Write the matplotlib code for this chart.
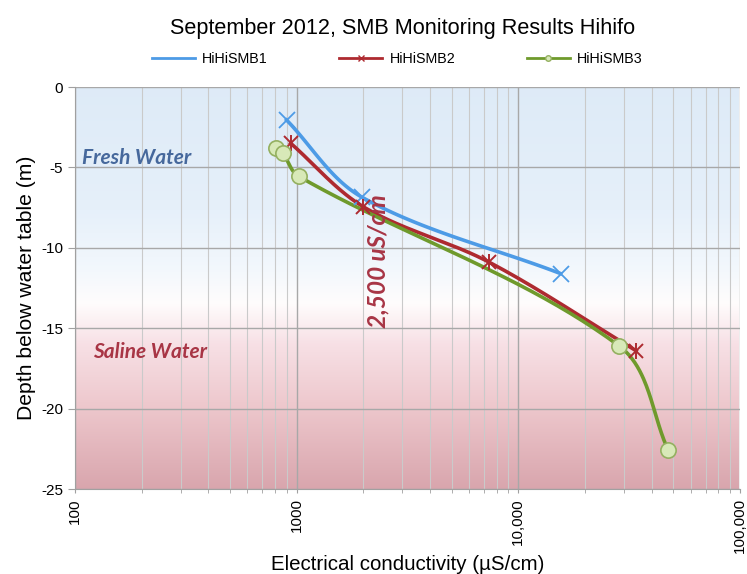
import matplotlib.pyplot as plt
import matplotlib as mpl
import numpy as np
from matplotlib.colors import LinearSegmentedColormap
from matplotlib.lines import Line2D

plt.rcParams['font.family'] = ['Liberation Sans', 'DejaVu Sans']
plt.rcParams['axes.unicode_minus'] = False

# data (EC in uS/cm, depth in m)
smb1_ec = [900, 1970, 15500]
smb1_depth = [-2.05, -6.85, -11.6]
smb2_ec = [940, 2000, 7400, 34000]
smb2_depth = [-3.5, -7.45, -10.9, -16.4]
smb3_ec = [810, 865, 1020, 28500, 47500]
smb3_depth = [-3.8, -4.1, -5.55, -16.1, -22.6]

series_names = ['HiHiSMB1', 'HiHiSMB2', 'HiHiSMB3']
threshold_ec = 2320

blue = '#4d9be6'
red = '#ae2a30'
green = '#6f9a2c'
label_font = ['Lato', 'DejaVu Sans']


def smooth(xs, ys, n=50):
    # smoothed line like the spreadsheet one, built in screen-like units
    u = np.log10(xs) * 222.0
    v = np.array(ys) * 16.1
    P = np.column_stack([u, v])
    m = len(P)
    tang = []
    for i in range(m):
        d = P[min(i + 1, m - 1)] - P[max(i - 1, 0)]
        tang.append(d / np.hypot(*d))
    out = []
    for i in range(m - 1):
        p1, p2 = P[i], P[i + 1]
        L = np.hypot(*(p2 - p1))
        c1 = p1 + tang[i] * L / 3.0
        c2 = p2 - tang[i + 1] * L / 3.0
        t = np.linspace(0, 1, n)[:, None]
        seg = (1 - t) ** 3 * p1 + 3 * (1 - t) ** 2 * t * c1 + 3 * (1 - t) * t ** 2 * c2 + t ** 3 * p2
        out.append(seg)
    out = np.vstack(out)
    return 10 ** (out[:, 0] / 222.0), out[:, 1] / 16.1


fig = plt.figure(figsize=(7.47, 5.74), dpi=100)
ax = fig.add_axes([0.1004, 0.148, 0.8902, 0.7004])

# background gradient: fresh (blue) to saline (rose)
stops = [(0.0, (0.87, 0.92, 0.97)), (0.3, (0.90, 0.94, 0.98)), (0.45, (0.95, 0.97, 0.99)),
         (0.54, (1.0, 0.99, 0.99)), (0.64, (0.97, 0.88, 0.90)), (0.8, (0.93, 0.78, 0.80)),
         (1.0, (0.85, 0.65, 0.68))]
cmap = LinearSegmentedColormap.from_list('bg', stops)
grad = np.linspace(0, 1, 256)[:, None]
ax.imshow(grad, aspect='auto', cmap=cmap, extent=[100, 100000, -25, 0], origin='upper', zorder=0)

ax.set_xscale('log')
ax.set_xlim(100, 100000)
ax.set_ylim(-25, 0)
ax.set_yticks([0, -5, -10, -15, -20, -25])

ax.grid(True, which='major', axis='both', color='#a8a8a8', lw=1.0, zorder=1)
ax.grid(True, which='minor', axis='x', color='#cacaca', lw=0.8, zorder=1)

ax.xaxis.set_major_locator(mpl.ticker.FixedLocator([100, 1000, 10000, 100000]))
ax.set_xticklabels(['100', '1000', '10,000', '100,000'], rotation=90, fontsize=11)
ax.tick_params(axis='x', which='both', length=3, color='#a0a0a0')
ax.tick_params(axis='y', length=5, color='#a0a0a0', labelsize=11)
for s in ['top', 'right']:
    ax.spines[s].set_visible(False)
for s in ['left', 'bottom']:
    ax.spines[s].set_color('#a0a0a0')

sx, sy = smooth(smb1_ec, smb1_depth)
ax.plot(sx, sy, color=blue, lw=2.6, zorder=3)
ax.plot(smb1_ec, smb1_depth, ls='none', marker='x', ms=11, mew=1.3, color=blue, zorder=4)

sx, sy = smooth(smb2_ec, smb2_depth)
ax.plot(sx, sy, color=red, lw=2.6, zorder=3)
ax.plot(smb2_ec, smb2_depth, ls='none', marker='x', ms=10, mew=1.4, color=red, zorder=4)
ax.plot(smb2_ec, smb2_depth, ls='none', marker='|', ms=12, mew=1.4, color=red, zorder=4)

sx, sy = smooth(smb3_ec, smb3_depth)
ax.plot(sx, sy, color=green, lw=2.6, zorder=3)
ax.plot(smb3_ec, smb3_depth, ls='none', marker='o', ms=11, mfc='#d8e9b8', mec='#94b060', mew=1.2, zorder=4)

ax.text(107, -4.4, 'Fresh Water', color='#46689c', fontsize=15, style='italic', fontweight='bold',
        family=label_font, va='center', zorder=5)
ax.text(120, -16.5, 'Saline Water', color='#a83545', fontsize=15, style='italic', fontweight='bold',
        family=label_font, va='center', zorder=5)
ax.text(threshold_ec, -10.8, '2,500 uS/cm', color='#a83545', fontsize=17.5, style='italic', fontweight='bold',
        family=label_font, rotation=90, ha='center', va='center', zorder=5)

ax.set_xlabel('Electrical conductivity (µS/cm)', fontsize=14.8)
ax.xaxis.set_label_coords(0.5, -0.165)
ax.set_ylabel('Depth below water table (m)', fontsize=15.2, labelpad=4)
fig.text(0.539, 0.951, 'September 2012, SMB Monitoring Results Hihifo', fontsize=15.6, ha='center', va='center')

handles = [Line2D([], [], color=blue, lw=2),
           Line2D([], [], color=red, lw=2, marker='x', ms=4),
           Line2D([], [], color=green, lw=2, marker='o', ms=4, mfc='#d8e9b8', mec='#94b060')]
fig.legend(handles, series_names, loc='center', bbox_to_anchor=(0.532, 0.898), ncol=3, frameon=False,
           fontsize=10.3, columnspacing=5.0, handlelength=3, handletextpad=0.5)

fig.savefig('out.png', dpi=100)
